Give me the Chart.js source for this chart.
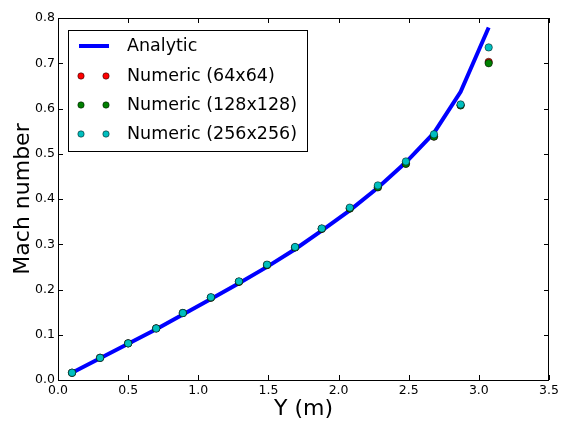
<!DOCTYPE html>
<html>
<head>
<meta charset="utf-8">
<script src="https://cdn.jsdelivr.net/npm/chart.js@4/dist/chart.umd.min.js"></script>
<style>
  html, body { margin: 0; padding: 0; background: #fff; }
  #wrap { width: 576px; height: 432px; }
</style>
</head>
<body>
<div id="wrap"><canvas id="c" width="576" height="432"></canvas></div>
<script>
const yPos = [0.10, 0.30, 0.50, 0.70, 0.89, 1.09, 1.29, 1.49, 1.69, 1.88, 2.08, 2.28, 2.48, 2.68, 2.87, 3.07]
const analytic = [0.016, 0.048, 0.080, 0.112, 0.145, 0.179, 0.214, 0.250, 0.289, 0.330, 0.375, 0.425, 0.481, 0.546, 0.637, 0.779]
const numeric64 = [0.016, 0.049, 0.081, 0.114, 0.148, 0.182, 0.217, 0.254, 0.293, 0.334, 0.379, 0.426, 0.478, 0.538, 0.607, 0.703]
const numeric128 = [0.016, 0.049, 0.081, 0.114, 0.148, 0.182, 0.217, 0.254, 0.293, 0.334, 0.379, 0.426, 0.478, 0.538, 0.607, 0.700]
const numeric256 = [0.016, 0.049, 0.081, 0.114, 0.148, 0.183, 0.218, 0.255, 0.294, 0.335, 0.381, 0.430, 0.483, 0.543, 0.609, 0.735]
const seriesNames = ["Analytic", "Numeric (64x64)", "Numeric (128x128)", "Numeric (256x256)"]
const xTicks = [0, 0.5, 1, 1.5, 2, 2.5, 3, 3.5]
const yTicks = [0, 0.1, 0.2, 0.3, 0.4, 0.5, 0.6, 0.7, 0.8]

const FONT = "'DejaVu Sans', sans-serif"
const toPts = ys => yPos.map((x, i) => ({ x: x, y: ys[i] }))

const markerSet = (label, data, color, order) => ({
  label: label,
  data: toPts(data),
  showLine: false,
  pointRadius: 3.7,
  pointBackgroundColor: color,
  pointBorderColor: "#000",
  pointBorderWidth: 0.5,
  order: order,
})

// frame, inward ticks and legend box like the original figure
const frame = {
  id: "frame",
  afterDraw(chart) {
    const { ctx, chartArea: a, scales } = chart
    ctx.save()
    ctx.strokeStyle = "#000"
    ctx.lineWidth = 1
    ctx.strokeRect(a.left + 0.5, a.top + 0.5, a.right - a.left - 1, a.bottom - a.top)
    ctx.beginPath()
    xTicks.forEach(v => {
      const px = Math.round(scales.x.getPixelForValue(v)) + 0.5
      ctx.moveTo(px, a.bottom); ctx.lineTo(px, a.bottom - 5)
      ctx.moveTo(px, a.top); ctx.lineTo(px, a.top + 5)
    })
    yTicks.forEach(v => {
      const py = Math.round(scales.y.getPixelForValue(v)) + 0.5
      ctx.moveTo(a.left, py); ctx.lineTo(a.left + 5, py)
      ctx.moveTo(a.right, py); ctx.lineTo(a.right - 5, py)
    })
    ctx.stroke()

    // legend
    const lx = 68.5, ly = 30.5, lw = 239, lh = 121
    ctx.fillStyle = "#fff"
    ctx.fillRect(lx, ly, lw, lh)
    ctx.strokeStyle = "#000"
    ctx.strokeRect(lx, ly, lw, lh)
    const rows = [46, 76, 105, 134]
    const colors = ["#0000ff", "#ff0000", "#008000", "#00bfbf"]
    rows.forEach((ry, i) => {
      if (i === 0) {
        ctx.strokeStyle = colors[0]
        ctx.lineWidth = 4
        ctx.beginPath()
        ctx.moveTo(79, ry); ctx.lineTo(109, ry)
        ctx.stroke()
      } else {
        ;[81, 106].forEach(mx => {
          ctx.beginPath()
          ctx.arc(mx, ry, 3.2, 0, Math.PI * 2)
          ctx.fillStyle = colors[i]
          ctx.fill()
          ctx.lineWidth = 0.5
          ctx.strokeStyle = "#000"
          ctx.stroke()
        })
      }
      ctx.fillStyle = "#000"
      ctx.font = "17.5px " + FONT
      ctx.textBaseline = "middle"
      ctx.textAlign = "left"
      ctx.fillText(seriesNames[i], 127, ry)
    })
    ctx.restore()
  }
}

new Chart(document.getElementById("c"), {
  type: "scatter",
  data: {
    datasets: [
      {
        label: seriesNames[0],
        data: toPts(analytic),
        showLine: true,
        borderColor: "#0000ff",
        borderWidth: 4,
        pointRadius: 0,
        fill: false,
        order: 4,
      },
      markerSet(seriesNames[1], numeric64, "#ff0000", 3),
      markerSet(seriesNames[2], numeric128, "#008000", 2),
      markerSet(seriesNames[3], numeric256, "#00bfbf", 1),
    ]
  },
  options: {
    responsive: false,
    animation: false,
    layout: { padding: { left: 0, right: 27, top: 18, bottom: 0 } },
    plugins: { legend: { display: false }, tooltip: { enabled: false } },
    scales: {
      x: {
        type: "linear",
        min: 0, max: 3.5,
        afterFit(s) { s.height = 52 },
        afterBuildTicks(s) { s.ticks = xTicks.map(v => ({ value: v })) },
        grid: { display: false, drawTicks: false },
        border: { display: false },
        ticks: {
          color: "#000", padding: 3,
          font: { family: FONT, size: 12.5 },
          callback: v => v.toFixed(1),
        },
        title: {
          display: true, text: "Y (m)", color: "#000",
          font: { family: FONT, size: 22 }, padding: { top: 0, bottom: 10 },
        },
      },
      y: {
        type: "linear",
        min: 0, max: 0.8,
        afterFit(s) { s.width = 58 },
        afterBuildTicks(s) { s.ticks = yTicks.map(v => ({ value: v })) },
        grid: { display: false, drawTicks: false },
        border: { display: false },
        ticks: {
          color: "#000", padding: 3,
          font: { family: FONT, size: 12.5 },
          callback: v => v.toFixed(1),
        },
        title: {
          display: true, text: "Mach number", color: "#000",
          font: { family: FONT, size: 22 }, padding: { top: 10, bottom: 0 },
        },
      },
    },
  },
  plugins: [frame],
})
</script>
</body>
</html>
